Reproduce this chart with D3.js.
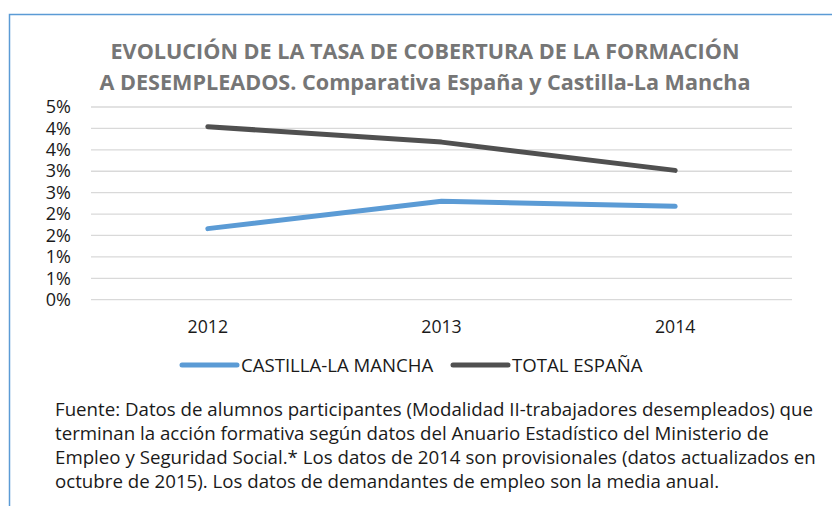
<!DOCTYPE html>
<html>
<head>
<meta charset="utf-8">
<script src="https://cdn.jsdelivr.net/npm/d3@7"></script>
<style>
  body { margin: 0; background: #fff; }
  text { font-family: "Open Sans", sans-serif; }
</style>
</head>
<body>
<svg id="chart" width="832" height="506"></svg>
<script>
// datos
var years = ["2012", "2013", "2014"];
var castilla = [0.0166, 0.0230, 0.0218];
var espana = [0.0404, 0.0368, 0.0302];
var seriesNames = ["CASTILLA-LA MANCHA", "TOTAL ESPAÑA"];
var seriesColors = ["#5B9BD5", "#505050"];
var yTicks = [0, 0.005, 0.01, 0.015, 0.02, 0.025, 0.03, 0.035, 0.04, 0.045];
var titleLines = ["EVOLUCIÓN DE LA TASA DE COBERTURA DE LA FORMACIÓN",
    "A DESEMPLEADOS. Comparativa España y Castilla-La Mancha"];
var sourceLines = [
    "Fuente: Datos de alumnos participantes (Modalidad II-trabajadores desempleados) que",
    "terminan la acción formativa según datos del Anuario Estadístico del Ministerio de",
    "Empleo y Seguridad Social.* Los datos de 2014 son provisionales (datos actualizados en",
    "octubre de 2015). Los datos de demandantes de empleo son la media anual."
];

var svg = d3.select("#chart");

// marco
svg.append("path")
    .attr("d", "M9.5,506 L9.5,14.5 L832,14.5")
    .attr("fill", "none")
    .attr("stroke", "#5B9BD5")
    .attr("stroke-width", 1.5);

var x = d3.scaleBand().domain(years).range([91, 792]);
var y = d3.scaleLinear().domain([0, 0.045]).range([299.7, 107]);

//titulo
svg.append("g").selectAll("text")
    .data(titleLines)
    .enter().append("text")
    .attr("x", 425)
    .attr("y", function (d, i) { return 59 + i * 31; })
    .attr("text-anchor", "middle")
    .attr("font-size", 21.6)
    .attr("font-weight", "bold")
    .attr("fill", "#767676")
    .text(function (d) { return d; });

// rejilla
svg.append("g")
    .selectAll("line")
    .data(yTicks)
    .enter().append("line")
    .attr("x1", 91)
    .attr("x2", 792)
    .attr("y1", function (d) { return y(d); })
    .attr("y2", function (d) { return y(d); })
    .attr("stroke", "#d9d9d9")
    .attr("stroke-width", 1.3);

// eje y
var yAxis = d3.axisLeft(y)
    .tickValues(yTicks)
    .tickSize(0)
    .tickPadding(0)
    .tickFormat(d3.format(".0%"));
var gy = svg.append("g").attr("transform", "translate(71,0)").call(yAxis);
gy.select(".domain").remove();
gy.selectAll("text")
    .attr("font-size", 18)
    .attr("fill", "#1a1a1a")
    .attr("font-family", "'Open Sans', sans-serif");

// eje x
var xAxis = d3.axisBottom(x).tickSize(0).tickPadding(0);
var gx = svg.append("g").attr("transform", "translate(0,320)").call(xAxis);
gx.select(".domain").remove();
gx.selectAll("text")
    .attr("font-size", 17.7)
    .attr("fill", "#1a1a1a")
    .attr("font-family", "'Open Sans', sans-serif");

// lineas
var line = d3.line()
    .x(function (d, i) { return x(years[i]) + x.bandwidth() / 2; })
    .y(function (d) { return y(d); });

[castilla, espana].forEach(function (s, i) {
    svg.append("path")
        .datum(s)
        .attr("d", line)
        .attr("fill", "none")
        .attr("stroke", seriesColors[i])
        .attr("stroke-width", 5)
        .attr("stroke-linecap", "round")
        .attr("stroke-linejoin", "round");
});

// leyenda
var legendX = [182, 453];
var legend = svg.append("g").selectAll("g")
    .data(seriesNames)
    .enter().append("g")
    .attr("transform", function (d, i) { return "translate(" + legendX[i] + ",365)"; });
legend.append("line")
    .attr("x1", 0).attr("x2", 55)
    .attr("stroke", function (d, i) { return seriesColors[i]; })
    .attr("stroke-width", 5)
    .attr("stroke-linecap", "round");
legend.append("text")
    .attr("x", 59)
    .attr("y", 6.5)
    .attr("font-size", 18.6)
    .attr("fill", "#1a1a1a")
    .text(function (d) { return d; });

// fuente
svg.append("g").selectAll("text")
    .data(sourceLines)
    .enter().append("text")
    .attr("x", 55)
    .attr("y", function (d, i) { return 416 + i * 24; })
    .attr("font-size", 18.7)
    .attr("fill", "#1a1a1a")
    .text(function (d) { return d; });
</script>
</body>
</html>
